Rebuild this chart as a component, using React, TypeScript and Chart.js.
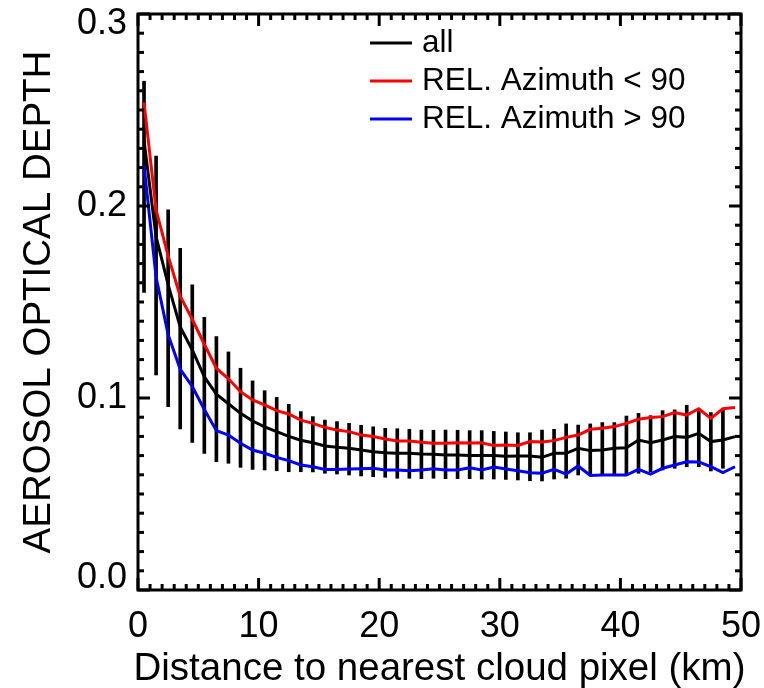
import React, { useEffect, useRef } from "react";
import { Chart, registerables } from "chart.js";

Chart.register(...registerables);

// ---- data ----
const distanceKm = [
  0.5, 1.5, 2.5, 3.5, 4.5, 5.5, 6.5, 7.5, 8.5, 9.5,
  10.5, 11.5, 12.5, 13.5, 14.5, 15.5, 16.5, 17.5, 18.5, 19.5,
  20.5, 21.5, 22.5, 23.5, 24.5, 25.5, 26.5, 27.5, 28.5, 29.5,
  30.5, 31.5, 32.5, 33.5, 34.5, 35.5, 36.5, 37.5, 38.5, 39.5,
  40.5, 41.5, 42.5, 43.5, 44.5, 45.5, 46.5, 47.5, 48.5, 49.5,
];

const aodAll = [
  0.234, 0.184, 0.159, 0.137, 0.125, 0.111, 0.102, 0.097, 0.092, 0.088,
  0.085, 0.0825, 0.080, 0.078, 0.0767, 0.075, 0.0743, 0.0738, 0.0729, 0.072,
  0.0715, 0.0712, 0.0712, 0.0708, 0.0707, 0.0703, 0.0703, 0.070, 0.0701, 0.070,
  0.0696, 0.0698, 0.0698, 0.0691, 0.0712, 0.0712, 0.0738, 0.0726, 0.0729, 0.0738,
  0.0741, 0.0781, 0.0767, 0.0781, 0.0799, 0.0795, 0.0816, 0.0773, 0.0781, 0.0799,
];

const aodRelAzLt90 = [
  0.254, 0.198, 0.174, 0.153, 0.141, 0.128, 0.1155, 0.110, 0.1033, 0.099,
  0.0964, 0.0934, 0.0917, 0.0885, 0.0868, 0.0847, 0.0833, 0.0825, 0.0807, 0.0799,
  0.0786, 0.0776, 0.0776, 0.0769, 0.0764, 0.0764, 0.0767, 0.0766, 0.0767, 0.0752,
  0.0755, 0.0753, 0.0773, 0.0771, 0.0778, 0.0795, 0.0807, 0.0837, 0.0842, 0.0851,
  0.0868, 0.0889, 0.0898, 0.0903, 0.0924, 0.0911, 0.0944, 0.0894, 0.0944, 0.0951,
];

const aodRelAzGt90 = [
  0.221, 0.163, 0.133, 0.115, 0.106, 0.094, 0.083, 0.0807, 0.0764, 0.0729,
  0.0712, 0.0691, 0.0674, 0.0651, 0.0642, 0.0628, 0.0628, 0.063, 0.0632, 0.0634,
  0.0625, 0.0625, 0.0621, 0.0625, 0.0632, 0.0625, 0.0625, 0.0637, 0.0625, 0.0641,
  0.063, 0.0621, 0.0611, 0.0608, 0.0628, 0.0604, 0.0646, 0.0597, 0.0599, 0.0599,
  0.0599, 0.0628, 0.0604, 0.0634, 0.0651, 0.0668, 0.0667, 0.0642, 0.0611, 0.0642,
];

const errLow = [
  0.155, 0.112, 0.0955, 0.0839, 0.0769, 0.0712, 0.0668, 0.066, 0.0639, 0.0628,
  0.0625, 0.0621, 0.0616, 0.0616, 0.0615, 0.0608, 0.0604, 0.0599, 0.0594, 0.059,
  0.0587, 0.0582, 0.0582, 0.058, 0.0582, 0.058, 0.058, 0.058, 0.0578, 0.0578,
  0.0576, 0.0573, 0.0569, 0.0568, 0.0578, 0.0582, 0.0599, 0.0604, 0.0604, 0.0604,
  0.0599, 0.0608, 0.0616, 0.0625, 0.0634, 0.0642, 0.0642, 0.062, 0.0634,
];

const errHigh = [
  0.265, 0.226, 0.198, 0.178, 0.159, 0.142, 0.132, 0.124, 0.1155, 0.1089,
  0.1038, 0.1003, 0.0967, 0.0929, 0.0903, 0.0885, 0.0877, 0.0868, 0.0858, 0.085,
  0.0842, 0.084, 0.0837, 0.0833, 0.0832, 0.0833, 0.0832, 0.083, 0.083, 0.0826,
  0.0823, 0.0819, 0.0819, 0.0833, 0.0837, 0.0865, 0.0859, 0.0865, 0.0872, 0.0872,
  0.0906, 0.092, 0.0908, 0.0934, 0.0938, 0.0962, 0.0938, 0.0924, 0.0941,
];

const xTickValues = [0, 10, 20, 30, 40, 50];
const xTickLabels = ["0", "10", "20", "30", "40", "50"];
const yTickValues = [0, 0.1, 0.2, 0.3];
const yTickLabels = ["0.0", "0.1", "0.2", "0.3"];
const seriesLabels = ["all", "REL. Azimuth < 90", "REL. Azimuth > 90"];
const seriesColors = ["#000000", "#ff0000", "#0000ff"];
const xTitle = "Distance to nearest cloud pixel (km)";
const yTitle = "AEROSOL OPTICAL DEPTH";

const FONT = '"Liberation Sans", Arial, Helvetica, sans-serif';

const idlFramePlugin = {
  id: "idlFrame",
  afterDatasetsDraw(chart: any) {
    const { ctx, chartArea: a } = chart;
    const xs = chart.scales.x;
    const ys = chart.scales.y;
    ctx.save();
    ctx.strokeStyle = "#000";
    ctx.fillStyle = "#000";
    ctx.lineWidth = 3;
    ctx.lineCap = "butt";
    // frame
    ctx.strokeRect(a.left, a.top, a.right - a.left, a.bottom - a.top);
    const seg = (x1: number, y1: number, x2: number, y2: number) => {
      ctx.beginPath();
      ctx.moveTo(x1, y1);
      ctx.lineTo(x2, y2);
      ctx.stroke();
    };
    // x ticks (minor every 1 km, major every 10)
    for (let i = 0; i <= 50; i++) {
      const px = xs.getPixelForValue(i);
      const len = i % 10 === 0 ? 12 : 6;
      seg(px, a.bottom, px, a.bottom - len);
      seg(px, a.top, px, a.top + len);
    }
    // y ticks (minor every 0.01, major every 0.1)
    for (let i = 0; i <= 30; i++) {
      const py = ys.getPixelForValue(i / 100);
      const len = i % 10 === 0 ? 12 : 6;
      seg(a.left, py, a.left + len, py);
      seg(a.right, py, a.right - len, py);
    }
    // tick labels
    ctx.font = `36px ${FONT}`;
    ctx.textAlign = "center";
    ctx.textBaseline = "middle";
    xTickValues.forEach((v, i) => {
      ctx.fillText(xTickLabels[i], xs.getPixelForValue(v), a.bottom + 37);
    });
    ctx.textAlign = "right";
    yTickValues.forEach((v, i) => {
      let py = ys.getPixelForValue(v);
      py = Math.min(Math.max(py, a.top + 10), a.bottom - 12);
      ctx.fillText(yTickLabels[i], a.left - 11, py);
    });
    // axis titles
    ctx.font = `38.5px ${FONT}`;
    ctx.textAlign = "center";
    ctx.textBaseline = "alphabetic";
    ctx.fillText(xTitle, (a.left + a.right) / 2, a.bottom + 90);
    ctx.save();
    ctx.translate(50, (a.top + a.bottom) / 2);
    ctx.rotate(-Math.PI / 2);
    ctx.fillText(yTitle, 0, 0);
    ctx.restore();
    // legend
    ctx.font = `31.5px ${FONT}`;
    ctx.textAlign = "left";
    ctx.textBaseline = "middle";
    seriesLabels.forEach((lab, i) => {
      const ly = 43 + i * 38;
      ctx.strokeStyle = seriesColors[i];
      seg(370, ly, 412, ly);
      ctx.fillStyle = "#000";
      ctx.fillText(lab, 422, ly);
    });
    ctx.restore();
  },
};

export default function App() {
  const canvasRef = useRef<HTMLCanvasElement | null>(null);

  useEffect(() => {
    if (!canvasRef.current) return;
    const lineSeries = [aodAll, aodRelAzLt90, aodRelAzGt90];
    const chart = new Chart(canvasRef.current, {
      type: "line",
      data: {
        datasets: [
          {
            type: "bar",
            label: "std",
            data: errLow.map((lo, i) => ({ x: distanceKm[i], y: [lo, errHigh[i]] })),
            backgroundColor: "#000000",
            borderWidth: 0,
            barThickness: 3,
            grouped: false,
            order: 10,
          } as any,
          ...lineSeries.map((vals, s) => ({
            type: "line",
            label: seriesLabels[s],
            data: vals.map((v, i) => ({ x: distanceKm[i], y: v })),
            borderColor: seriesColors[s],
            borderWidth: 3,
            pointRadius: 0,
            tension: 0,
            fill: false,
            order: 3 - s,
          })) as any,
        ],
      },
      options: {
        responsive: false,
        animation: false,
        layout: { padding: { left: 138, right: 23, top: 14, bottom: 98 } },
        scales: {
          x: { type: "linear", min: 0, max: 50, display: false, offset: false },
          y: { type: "linear", min: 0, max: 0.3, display: false },
        },
        plugins: {
          legend: { display: false },
          tooltip: { enabled: false },
        },
      },
      plugins: [idlFramePlugin],
    });
    return () => chart.destroy();
  }, []);

  return (
    <div style={{ position: "absolute", left: 0, top: 0, width: 764, height: 688, background: "#fff" }}>
      <canvas ref={canvasRef} width={764} height={688} style={{ display: "block" }} />
    </div>
  );
}
